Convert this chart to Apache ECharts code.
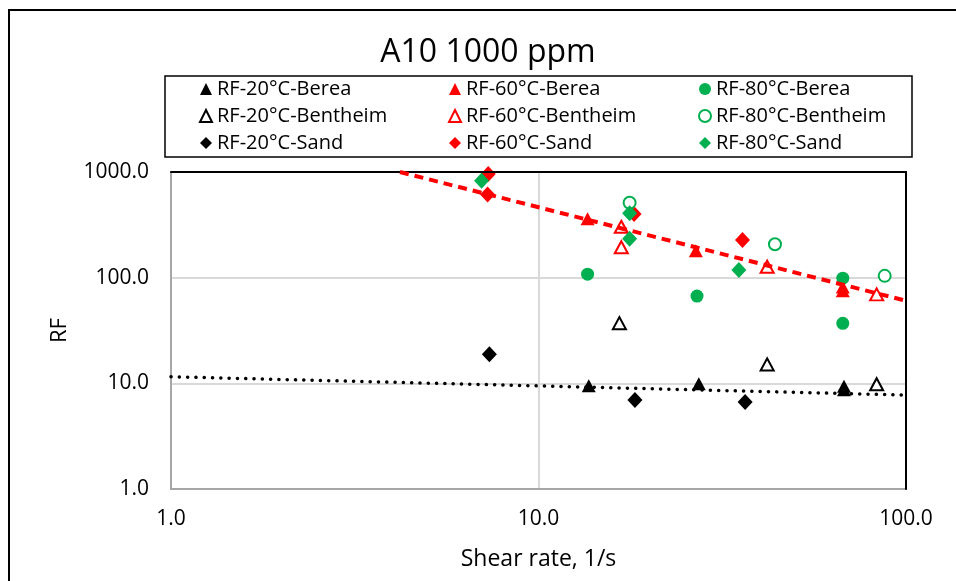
<!DOCTYPE html>
<html>
<head>
<meta charset="utf-8">
<script src="https://cdn.jsdelivr.net/npm/echarts@6/dist/echarts.min.js"></script>
<style>
  html, body { margin: 0; padding: 0; background: #fff; }
  #chart { width: 956px; height: 581px; }
</style>
</head>
<body>
<div id="chart"></div>
<script>
// Resistance factor (RF) vs shear rate, A10 polymer at 1000 ppm
const FONT = 'Open Sans';

// Series names
const names20 = ['RF-20°C-Berea', 'RF-20°C-Bentheim', 'RF-20°C-Sand'];
const names60 = ['RF-60°C-Berea', 'RF-60°C-Bentheim', 'RF-60°C-Sand'];
const names80 = ['RF-80°C-Berea', 'RF-80°C-Bentheim', 'RF-80°C-Sand'];

// 20 °C
const berea20X = [13.7, 27.3, 67.8, 67.8];
const berea20Y = [9.5, 9.9, 9.4, 8.7];
const bentheim20X = [16.6, 41.9, 83.2];
const bentheim20Y = [37.1, 15.1, 9.8];
const sand20X = [7.35, 18.3, 36.5];
const sand20Y = [18.8, 6.95, 6.65];

// 60 °C
const berea60X = [13.6, 26.8, 67.3, 67.3];
const berea60Y = [361, 180, 81.5, 75.2];
const bentheim60X = [16.8, 16.8, 41.9, 83.2];
const bentheim60Y = [303, 194, 127, 69.5];
const sand60X = [7.30, 7.27, 18.2, 35.9];
const sand60Y = [955, 614, 400, 227];

// 80 °C
const berea80X = [13.6, 27.0, 67.3, 67.3];
const berea80Y = [108, 67, 99, 37];
const bentheim80X = [17.7, 44.0, 87.5];
const bentheim80Y = [511, 207, 104];
const sand80X = [7.0, 17.7, 17.7, 35.1];
const sand80Y = [826, 406, 233, 118];

// Power-law trend lines y = a * x^b
const trendHot = { a: 3560, b: -0.885 };
const trendCold = { a: 11.55, b: -0.087 };

// Axis ranges
const xRange = [1, 100];
const yRange = [1, 1000];

const BLACK = '#000000';
const RED = '#FF0000';
const GREEN = '#00B050';

function pairs(xs, ys) {
  return xs.map((x, i) => [x, ys[i]]);
}

function powerLine(fit, x0, x1, yMax) {
  // start where the curve enters the plot from above
  const xTop = Math.pow(yMax / fit.a, 1 / fit.b);
  const start = Math.max(x0, Math.min(xTop, x1));
  return [start, x1].map(x => [x, fit.a * Math.pow(x, fit.b)]);
}

function scatter(name, xs, ys, symbol, color, hollow, size) {
  return {
    name: name,
    type: 'scatter',
    symbol: symbol,
    symbolSize: size,
    data: pairs(xs, ys),
    itemStyle: hollow
      ? { color: '#ffffff', borderColor: color, borderWidth: 2, opacity: 1 }
      : { color: color, opacity: 1 },
    emphasis: { disabled: true },
    z: 2
  };
}

const TRI = [14, 13];
const TRI_OPEN = [13, 12];
const DIA = [15, 16];
const CIR = 13;
const CIR_OPEN = 12;

const series = [
  scatter(names20[0], berea20X, berea20Y, 'triangle', BLACK, false, TRI),
  scatter(names20[1], bentheim20X, bentheim20Y, 'triangle', BLACK, true, TRI_OPEN),
  scatter(names20[2], sand20X, sand20Y, 'diamond', BLACK, false, DIA),
  scatter(names60[0], berea60X, berea60Y, 'triangle', RED, false, TRI),
  scatter(names60[1], bentheim60X, bentheim60Y, 'triangle', RED, true, TRI_OPEN),
  scatter(names60[2], sand60X, sand60Y, 'diamond', RED, false, DIA),
  scatter(names80[0], berea80X, berea80Y, 'circle', GREEN, false, CIR),
  scatter(names80[1], bentheim80X, bentheim80Y, 'circle', GREEN, true, CIR_OPEN),
  scatter(names80[2], sand80X, sand80Y, 'diamond', GREEN, false, DIA),
  {
    name: 'trend-hot',
    type: 'line',
    data: powerLine(trendHot, xRange[0], xRange[1], yRange[1]),
    showSymbol: false,
    silent: true,
    clip: true,
    lineStyle: { color: RED, width: 4, type: [9, 6] },
    z: 3
  },
  {
    name: 'trend-cold',
    type: 'line',
    data: powerLine(trendCold, xRange[0], xRange[1], yRange[1]),
    showSymbol: false,
    silent: true,
    clip: true,
    lineStyle: { color: BLACK, width: 3.5, type: [0.1, 8.2], cap: 'round' },
    z: 3
  }
];

function legendColumn(list, left) {
  return {
    data: list,
    orient: 'vertical',
    left: left,
    top: 79,
    padding: 0,
    itemGap: 7,
    itemWidth: 12,
    itemHeight: 12,
    selectedMode: false,
    textStyle: { fontFamily: FONT, fontSize: 20, color: BLACK, lineHeight: 20 }
  };
}

const frameAxis = {
  axisLine: { lineStyle: { color: BLACK, width: 2 } },
  axisTick: { show: false },
  axisLabel: { show: false },
  splitLine: { show: false },
  z: 3
};

const chart = echarts.init(document.getElementById('chart'), null, { renderer: 'canvas' });

chart.setOption({
  animation: false,
  backgroundColor: '#ffffff',
  textStyle: { fontFamily: FONT },
  grid: { left: 171, top: 172, right: 50, bottom: 92 },
  legend: [
    legendColumn(names20, 199),
    legendColumn(names60, 448),
    legendColumn(names80, 698)
  ],
  xAxis: [{
    type: 'log',
    logBase: 10,
    min: xRange[0],
    max: xRange[1],
    name: 'Shear rate, 1/s',
    nameLocation: 'middle',
    nameGap: 59,
    nameTextStyle: { fontFamily: FONT, fontSize: 23, color: BLACK },
    axisLine: { lineStyle: { color: '#a6a6a6', width: 2 } },
    axisTick: { show: false },
    axisLabel: {
      fontFamily: FONT, fontSize: 21, color: BLACK, margin: 20,
      formatter: v => Number(v).toFixed(1)
    },
    splitLine: { show: true, lineStyle: { color: '#d9d9d9', width: 2 } },
    z: 1
  }, Object.assign({
    type: 'log', logBase: 10, min: xRange[0], max: xRange[1], position: 'top'
  }, frameAxis)],
  yAxis: [{
    type: 'log',
    logBase: 10,
    min: yRange[0],
    max: yRange[1],
    name: 'RF',
    nameLocation: 'middle',
    nameGap: 100,
    nameRotate: 90,
    nameTextStyle: { fontFamily: FONT, fontSize: 22, color: BLACK },
    axisLine: { lineStyle: { color: '#a6a6a6', width: 2 } },
    axisTick: { show: false },
    axisLabel: {
      fontFamily: FONT, fontSize: 21, color: BLACK, margin: 22,
      formatter: v => Number(v).toFixed(1)
    },
    splitLine: { show: true, lineStyle: { color: '#d9d9d9', width: 2 } },
    z: 1
  }, Object.assign({
    type: 'log', logBase: 10, min: yRange[0], max: yRange[1], position: 'right'
  }, frameAxis)],
  graphic: [
    {
      type: 'rect',
      silent: true,
      shape: { x: 9, y: 10, width: 1200, height: 1200 },
      style: { fill: 'none', stroke: BLACK, lineWidth: 2 }
    },
    {
      type: 'rect',
      silent: true,
      shape: { x: 165, y: 76, width: 747, height: 81 },
      style: { fill: 'none', stroke: BLACK, lineWidth: 1.5 }
    },
    {
      type: 'text',
      silent: true,
      x: 488,
      y: 53,
      style: {
        text: 'A10 1000 ppm',
        font: '32px "Open Sans"',
        fill: BLACK,
        textAlign: 'center',
        textVerticalAlign: 'middle'
      }
    }
  ],
  series: series
});
</script>
</body>
</html>
